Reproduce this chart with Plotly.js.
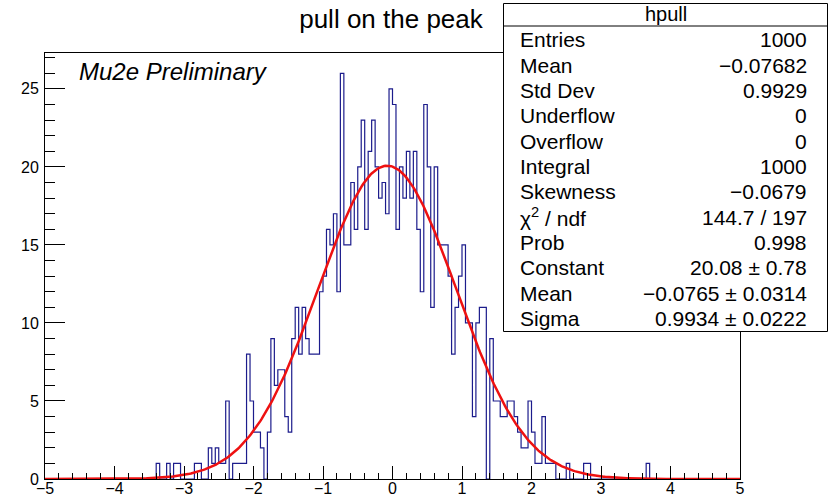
<!DOCTYPE html>
<html>
<head>
<meta charset="utf-8">
<script src="https://cdn.plot.ly/plotly-3.0.1.min.js"></script>
<style>
  html, body { margin: 0; padding: 0; background: #ffffff; }
  #plot { width: 829px; height: 500px; }
</style>
</head>
<body>
<div id="plot"></div>
<script>
// hpull: 200 equal bins on [-5, 5]
const nBins = 200;
const xLow = -5;
const xHigh = 5;

const counts = [
  0, 0, 0, 0, 0, 0, 0, 0, 0, 0,
  0, 0, 0, 0, 0, 0, 0, 0, 0, 0,
  0, 0, 0, 0, 0, 0, 0, 0, 0, 0,
  0, 0, 1, 0, 0, 1, 0, 1, 1, 0,
  0, 0, 0, 1, 1, 0, 0, 2, 1, 2,
  1, 1, 5, 0, 1, 1, 1, 1, 8, 5,
  3, 3, 2, 0, 3, 9, 6, 7, 7, 4,
  3, 9, 11, 8, 11, 9, 8, 8, 8, 12,
  13, 16, 15, 17, 12, 26, 15, 15, 19, 16,
  20, 23, 16, 21, 23, 20, 18, 19, 17, 25,
  24, 16, 20, 18, 21, 18, 21, 16, 12, 24,
  20, 11, 20, 15, 15, 15, 13, 8, 11, 13,
  15, 10, 10, 4, 10, 11, 11, 0, 9, 5,
  5, 4, 4, 5, 5, 4, 3, 2, 2, 5,
  3, 1, 1, 4, 1, 1, 1, 0, 0, 0,
  1, 0, 0, 0, 0, 1, 1, 0, 0, 0,
  0, 0, 0, 0, 0, 0, 0, 0, 0, 0,
  0, 0, 0, 1, 0, 0, 0, 0, 0, 0,
  0, 0, 0, 0, 0, 0, 0, 0, 0, 0,
  0, 0, 0, 0, 0, 0, 0, 0, 0, 0
];

// Gaussian fit parameters
const fitConstant = 20.08;
const fitMean = -0.0765;
const fitSigma = 0.9934;

// statistics box
const statsTitle = "hpull";
const statLabels = ["Entries", "Mean", "Std Dev", "Underflow", "Overflow", "Integral",
  "Skewness", "χ<sup>2</sup> / ndf", "Prob", "Constant", "Mean", "Sigma"];
const statValues = ["1000", "−0.07682", "0.9929", "0", "0", "1000",
  "−0.0679", "144.7 / 197", "0.998", "20.08 ± 0.78", "−0.0765 ± 0.0314", "0.9934 ± 0.0222"];

const yTickVals = [0, 5, 10, 15, 20, 25];
const xTickVals = [-5, -4, -3, -2, -1, 0, 1, 2, 3, 4, 5];

// ---- histogram outline as a step line over the bin edges
const binWidth = (xHigh - xLow) / nBins;
const stepX = [], stepY = [];
for (let i = 0; i < nBins; i++) {
  stepX.push(xLow + i * binWidth);
  stepY.push(counts[i]);
}
stepX.push(xHigh);
stepY.push(counts[nBins - 1]);

// ---- fitted gaussian
const fitX = [], fitY = [];
const nFit = 500;
for (let i = 0; i <= nFit; i++) {
  const x = xLow + (xHigh - xLow) * i / nFit;
  fitX.push(x);
  fitY.push(fitConstant * Math.exp(-0.5 * Math.pow((x - fitMean) / fitSigma, 2)));
}

// ---- page geometry helpers (pixel -> paper)
const W = 829, H = 500;
const M = { l: 45, r: 89, t: 53, b: 21 };
const plotW = W - M.l - M.r, plotH = H - M.t - M.b;
const px = v => (v - M.l) / plotW;
const py = v => (H - M.b - v) / plotH;

const FONT = "Liberation Sans, Arial, Helvetica, sans-serif";

const shapes = [
  { type: "rect", xref: "paper", yref: "paper", layer: "above",
    x0: px(503.5), x1: px(827.5), y0: py(331.5), y1: py(3.5),
    line: { color: "#000000", width: 1 }, fillcolor: "#ffffff" },
  { type: "line", xref: "paper", yref: "paper", layer: "above",
    x0: px(503.5), x1: px(827.5), y0: py(26), y1: py(26),
    line: { color: "#000000", width: 1 } }
];

const annotations = [
  { xref: "paper", yref: "paper", x: px(665.5), y: py(14), xanchor: "center", yanchor: "middle",
    text: statsTitle, showarrow: false, font: { family: FONT, size: 20, color: "#000" } },
  { xref: "paper", yref: "paper", x: px(77), y: py(71), xanchor: "left", yanchor: "middle",
    text: "<i>Mu2e Preliminary</i>", showarrow: false, font: { family: FONT, size: 24, color: "#000" } }
];
statLabels.forEach((lab, i) => {
  const yc = 40 + 25.3 * i;
  annotations.push({ xref: "paper", yref: "paper", x: px(518), y: py(yc), xanchor: "left", yanchor: "middle",
    text: lab, showarrow: false, font: { family: FONT, size: 21, color: "#000" } });
  annotations.push({ xref: "paper", yref: "paper", x: px(808.5), y: py(yc), xanchor: "right", yanchor: "middle",
    text: statValues[i], showarrow: false, font: { family: FONT, size: 21, color: "#000" } });
});

const traces = [
  { type: "scatter", mode: "lines", x: stepX, y: stepY,
    line: { shape: "hv", color: "#1c1c8c", width: 1.2 }, hoverinfo: "skip", showlegend: false },
  { type: "scatter", mode: "lines", x: fitX, y: fitY,
    line: { color: "#ee1111", width: 2.5 }, hoverinfo: "skip", showlegend: false }
];

const layout = {
  width: W, height: H,
  margin: { l: M.l, r: M.r, t: M.t, b: M.b, pad: 0 },
  paper_bgcolor: "#ffffff", plot_bgcolor: "#ffffff",
  showlegend: false,
  font: { family: FONT, color: "#000000" },
  title: { text: "pull on the peak", font: { family: FONT, size: 26, color: "#000" },
    xref: "container", yref: "container", x: 391 / W, xanchor: "center", y: 1 - 18.5 / H, yanchor: "middle" },
  xaxis: {
    range: [xLow, xHigh], autorange: false, automargin: false,
    tickmode: "array", tickvals: xTickVals,
    ticks: "inside", ticklen: 13, tickwidth: 1, tickcolor: "#000",
    ticklabelstandoff: -5,
    minor: { dtick: 0.2, tick0: -5, ticks: "inside", ticklen: 6.5, tickwidth: 1, tickcolor: "#000", showgrid: false },
    showline: true, mirror: true, linecolor: "#000", linewidth: 1,
    showgrid: false, zeroline: false,
    tickfont: { family: FONT, size: 16, color: "#000" }
  },
  yaxis: {
    range: [0, 27.3], autorange: false, automargin: false,
    tickmode: "array", tickvals: yTickVals,
    ticks: "inside", ticklen: 20, tickwidth: 1, tickcolor: "#000",
    ticklabelstandoff: 2,
    minor: { dtick: 1, tick0: 0, ticks: "inside", ticklen: 10, tickwidth: 1, tickcolor: "#000", showgrid: false },
    showline: true, mirror: true, linecolor: "#000", linewidth: 1,
    showgrid: false, zeroline: false,
    tickfont: { family: FONT, size: 16, color: "#000" }
  },
  shapes: shapes,
  annotations: annotations
};

Plotly.newPlot("plot", traces, layout, { staticPlot: true, displayModeBar: false });
</script>
</body>
</html>
